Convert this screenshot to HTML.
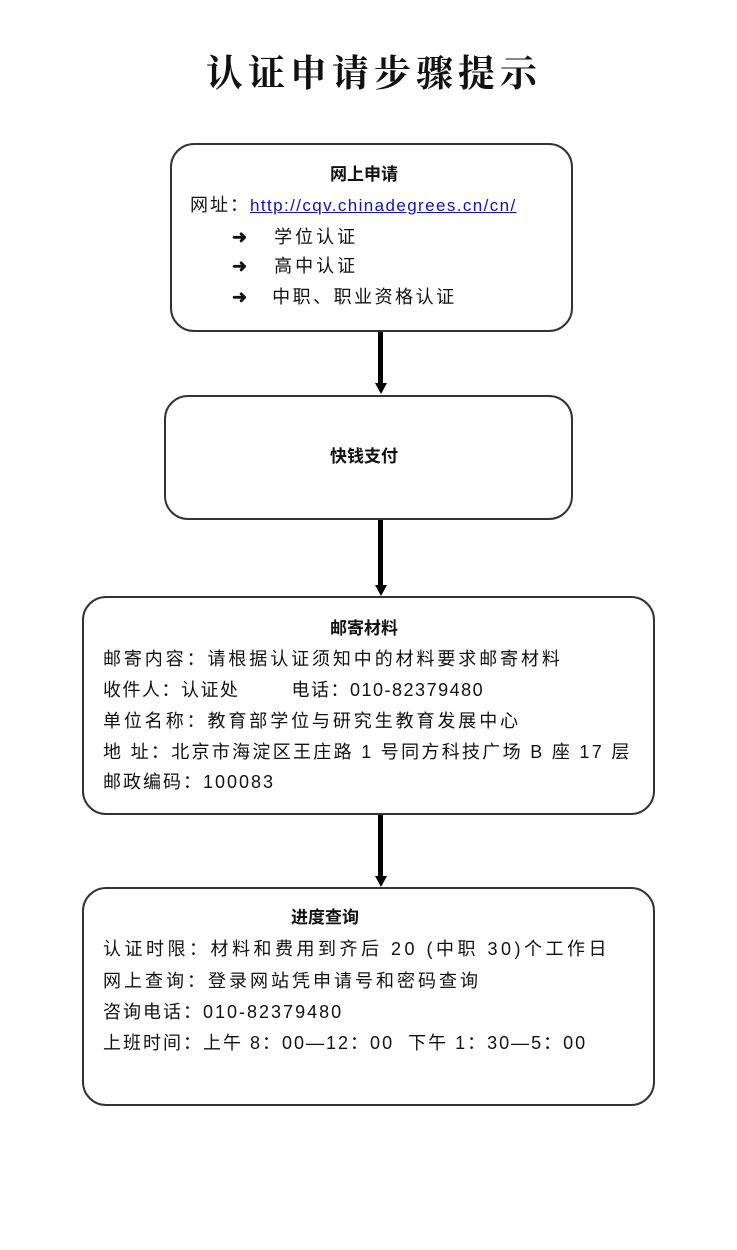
<!DOCTYPE html>
<html><head><meta charset="utf-8"><style>
body{margin:0;width:737px;height:1250px;background:#fff;position:relative;overflow:hidden;font-family:"Liberation Sans","Noto Sans CJK SC",sans-serif;color:#111}
.box{position:absolute;border:2px solid #333;border-radius:24px;box-sizing:border-box}
.t{position:absolute;white-space:nowrap;font-size:18px;line-height:22px;letter-spacing:2px}
.b{font-weight:bold;letter-spacing:0}
.shaft{position:absolute;left:378px;width:5px;background:#000}
.head{position:absolute;left:375px;width:0;height:0;border-left:6px solid transparent;border-right:6px solid transparent;border-top:11px solid #000}
</style></head><body>
<div class="t" style="left:206px;top:46px;font-family:'Noto Serif CJK SC',serif;font-size:37px;line-height:48px;letter-spacing:5px;font-weight:bold">认证申请步骤提示</div>

<div class="box" style="left:170px;top:143px;width:403px;height:189px"></div>
<div class="t b" style="left:330px;top:164px;font-size:17px">网上申请</div>
<div class="t" style="left:190px;top:194px">网址：<span style="color:#1010c0;text-decoration:underline;letter-spacing:1.4px;font-size:17px">http://cqv.chinadegrees.cn/cn/</span></div>
<div class="t" style="left:232px;top:226px;letter-spacing:3px"><b>➜</b>&nbsp;&nbsp;&nbsp;学位认证</div>
<div class="t" style="left:232px;top:255px;letter-spacing:3px"><b>➜</b>&nbsp;&nbsp;&nbsp;高中认证</div>
<div class="t" style="left:232px;top:286px;letter-spacing:2.5px"><b>➜</b>&nbsp;&nbsp;&nbsp;中职、职业资格认证</div>

<div class="shaft" style="top:332px;height:52px"></div><div class="head" style="top:383px"></div>

<div class="box" style="left:164px;top:395px;width:409px;height:125px"></div>
<div class="t b" style="left:330px;top:446px;font-size:17px">快钱支付</div>

<div class="shaft" style="top:520px;height:66px"></div><div class="head" style="top:585px"></div>

<div class="box" style="left:82px;top:596px;width:573px;height:219px"></div>
<div class="t b" style="left:330px;top:618px;font-size:17px">邮寄材料</div>
<div class="t" style="left:103px;top:648px;letter-spacing:2.9px">邮寄内容：请根据认证须知中的材料要求邮寄材料</div>
<div class="t" style="left:103px;top:679px;letter-spacing:1.5px">收件人：认证处&nbsp;&nbsp;&nbsp;&nbsp;&nbsp;&nbsp;&nbsp;&nbsp;电话：010-82379480</div>
<div class="t" style="left:103px;top:710px;letter-spacing:2.9px">单位名称：教育部学位与研究生教育发展中心</div>
<div class="t" style="left:103px;top:741px;letter-spacing:2.3px">地 址：北京市海淀区王庄路 1 号同方科技广场 B 座 17 层</div>
<div class="t" style="left:103px;top:771px">邮政编码：100083</div>

<div class="shaft" style="top:815px;height:62px"></div><div class="head" style="top:876px"></div>

<div class="box" style="left:82px;top:887px;width:573px;height:219px"></div>
<div class="t b" style="left:291px;top:907px;font-size:17px">进度查询</div>
<div class="t" style="left:103px;top:938px;letter-spacing:3.5px">认证时限：材料和费用到齐后 20 (中职 30)个工作日</div>
<div class="t" style="left:103px;top:970px;letter-spacing:3px">网上查询：登录网站凭申请号和密码查询</div>
<div class="t" style="left:103px;top:1001px">咨询电话：010-82379480</div>
<div class="t" style="left:103px;top:1032px;letter-spacing:2px">上班时间：上午 8：00—12：00&nbsp;&nbsp;下午 1：30—5：00</div>
</body></html>
